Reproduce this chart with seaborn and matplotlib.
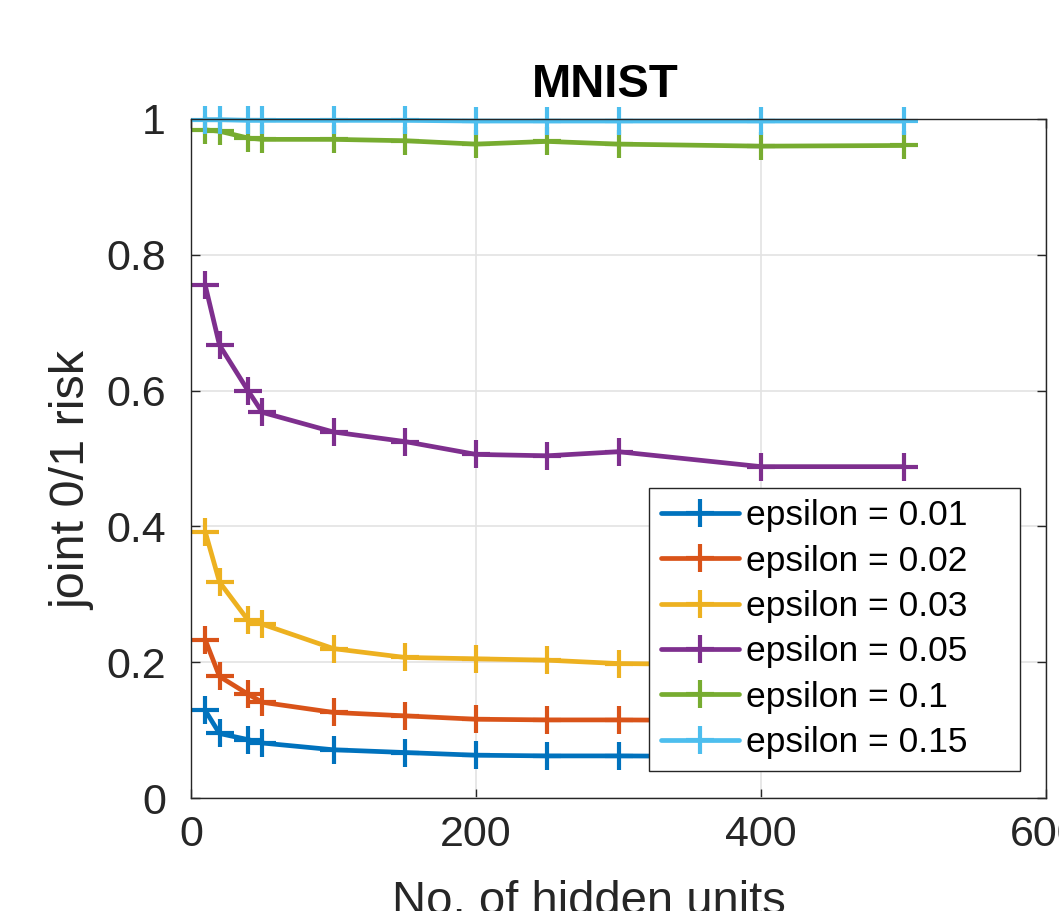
import numpy as np
import pandas as pd
import matplotlib
matplotlib.use("Agg")
import matplotlib.pyplot as plt
import seaborn as sns

# ---- data ----
hidden_units = [10, 20, 40, 50, 100, 150, 200, 250, 300, 400, 500]
eps_001 = [0.129, 0.095, 0.086, 0.081, 0.071, 0.067, 0.063, 0.062, 0.062, 0.061, 0.060]
eps_002 = [0.233, 0.179, 0.153, 0.141, 0.126, 0.121, 0.116, 0.115, 0.115, 0.114, 0.113]
eps_003 = [0.392, 0.318, 0.262, 0.256, 0.220, 0.207, 0.205, 0.203, 0.198, 0.196, 0.195]
eps_005 = [0.755, 0.667, 0.600, 0.568, 0.539, 0.525, 0.506, 0.504, 0.510, 0.488, 0.488]
eps_01 = [0.984, 0.982, 0.972, 0.970, 0.970, 0.968, 0.963, 0.967, 0.963, 0.960, 0.961]
eps_015 = [0.999, 0.999, 0.998, 0.998, 0.998, 0.998, 0.997, 0.997, 0.997, 0.997, 0.997]

series_labels = ["epsilon = 0.01", "epsilon = 0.02", "epsilon = 0.03",
                 "epsilon = 0.05", "epsilon = 0.1", "epsilon = 0.15"]
series_values = [eps_001, eps_002, eps_003, eps_005, eps_01, eps_015]
colors = ["#0072BD", "#D95319", "#EDB120", "#7E2F8E", "#77AC30", "#4DBEEE"]

x_ticks = [0, 200, 400, 600]
y_ticks = [0, 0.2, 0.4, 0.6, 0.8, 1.0]
y_tick_labels = ["0", "0.2", "0.4", "0.6", "0.8", "1"]

title = "MNIST"
x_label = "No. of hidden units"
y_label = "joint 0/1 risk"

# ---- style ----
sns.set_theme(style="white")
plt.rcParams["font.family"] = ["Liberation Sans", "DejaVu Sans"]
dark = "#262626"

fig = plt.figure(figsize=(10.59, 9.11), dpi=100)
ax = fig.add_axes([191 / 1059, (911 - 798) / 911, 855 / 1059, 679 / 911])

for lab, vals, col in zip(series_labels, series_values, colors):
    sns.lineplot(x=hidden_units, y=vals, ax=ax, color=col, label=lab,
                 marker="+", markersize=19.5, markeredgewidth=3,
                 markeredgecolor=col, linewidth=3.4, clip_on=False)

ax.set_xlim(0, 600)
ax.set_ylim(0, 1)
ax.set_xticks(x_ticks)
ax.set_yticks(y_ticks)
ax.set_yticklabels(y_tick_labels)

ax.grid(True, color="#e3e3e3", linewidth=1.2)
ax.set_axisbelow(True)
for s in ax.spines.values():
    s.set_visible(True)
    s.set_color(dark)
    s.set_linewidth(1.0)

ax.tick_params(axis="both", which="both", direction="in", length=6.5, width=1.0,
               color=dark, labelcolor=dark, labelsize=31,
               top=True, right=True, bottom=True, left=True)
ax.tick_params(axis="x", pad=12)
ax.tick_params(axis="y", pad=18)

ax.set_xlabel(x_label, fontsize=34, color=dark, va="top")
ax.xaxis.set_label_coords(0.465, -0.121)
ax.set_ylabel(y_label, fontsize=35, color=dark, va="bottom")
ax.yaxis.set_label_coords(-0.112, 0.467)

ax.text(0.484, (798 - 97) / 679, title, transform=ax.transAxes,
        ha="center", va="baseline", fontsize=34, fontweight="bold", color="black")

handles, labels = ax.get_legend_handles_labels()
leg = ax.legend(handles, labels, loc="lower left",
                bbox_to_anchor=(0.5357, 0.0398, 0.4339, 0.4168), mode="expand",
                borderaxespad=0, fontsize=25.5, frameon=True, fancybox=False,
                framealpha=1, edgecolor=dark, handlelength=2.2, handletextpad=0.2,
                labelspacing=0.35, borderpad=0.33, numpoints=1)
leg.get_frame().set_linewidth(1.0)
for t in leg.get_texts():
    t.set_color("black")

fig.savefig("out.png", dpi=100)
